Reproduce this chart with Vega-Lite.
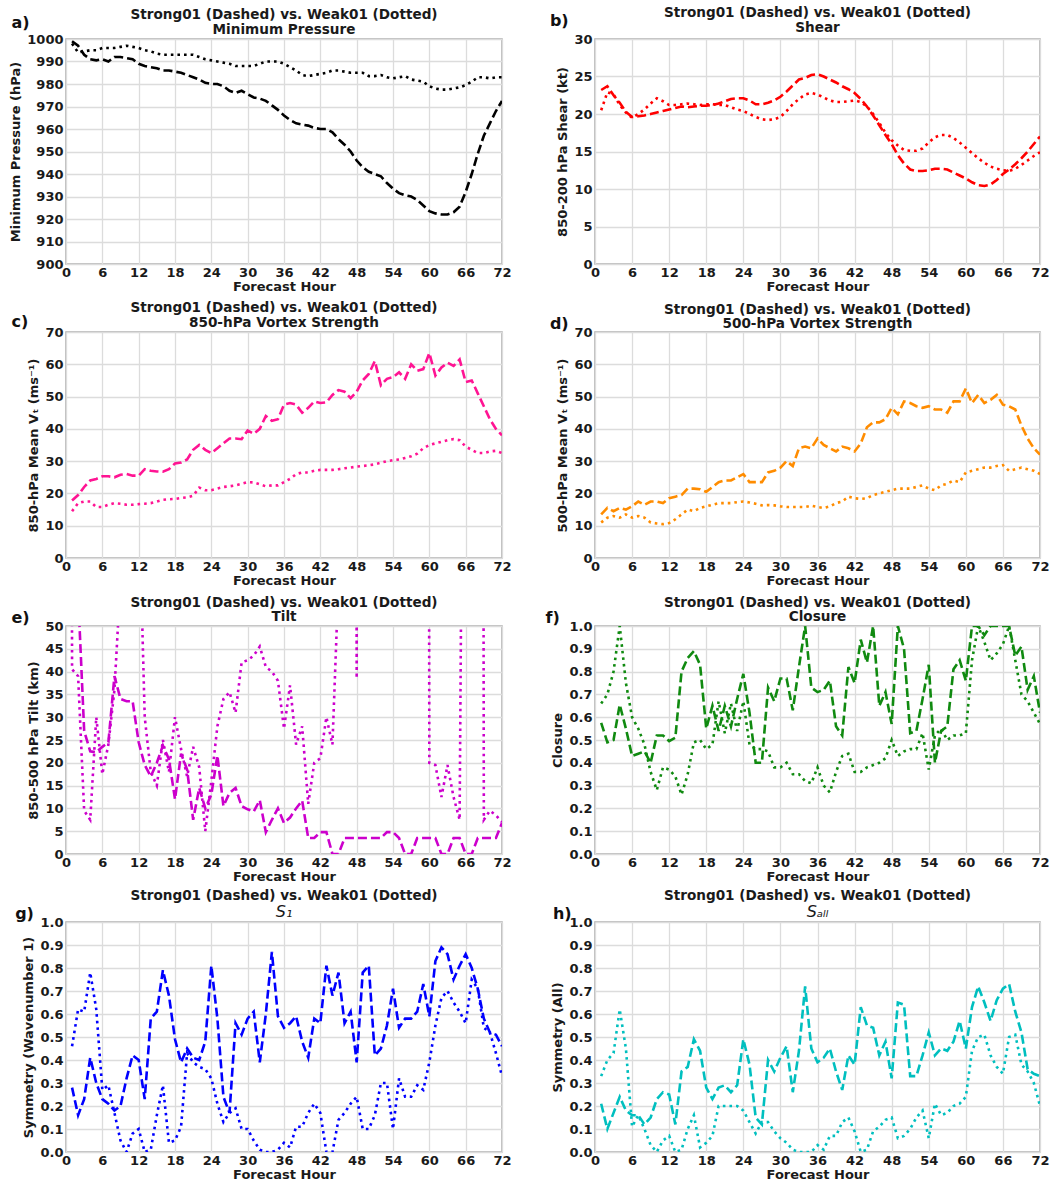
{
"$schema":"https://vega.github.io/schema/vega-lite/v6.json",
"padding":{"left":9,"top":5,"right":5,"bottom":0},
"bounds":"flush",
"columns":2,
"spacing":{"row":68,"column":93},
"datasets":{
"a":[{"h":1,"s":999,"w":998},{"h":2,"s":997,"w":994},{"h":3,"s":993,"w":994.5},{"h":4,"s":991,"w":995},{"h":5,"s":990.5,"w":995},{"h":6,"s":991,"w":996},{"h":7,"s":990,"w":996},{"h":8,"s":992,"w":996},{"h":9,"s":992,"w":996.5},{"h":10,"s":991.5,"w":997},{"h":11,"s":991,"w":996.5},{"h":12,"s":989,"w":996},{"h":13,"s":988,"w":995},{"h":14,"s":987.5,"w":994.5},{"h":15,"s":987,"w":993.5},{"h":16,"s":986,"w":993},{"h":17,"s":986,"w":993},{"h":18,"s":985.5,"w":993},{"h":19,"s":985,"w":993},{"h":20,"s":984,"w":993},{"h":21,"s":983,"w":993},{"h":22,"s":982,"w":992},{"h":23,"s":980.5,"w":991},{"h":24,"s":980,"w":990.5},{"h":25,"s":980,"w":990},{"h":26,"s":979,"w":989.5},{"h":27,"s":977,"w":989},{"h":28,"s":976,"w":988},{"h":29,"s":977,"w":988},{"h":30,"s":975.5,"w":988},{"h":31,"s":974,"w":988},{"h":32,"s":973.5,"w":989},{"h":33,"s":972.5,"w":990},{"h":34,"s":970.5,"w":990},{"h":35,"s":968.5,"w":990},{"h":36,"s":966,"w":989},{"h":37,"s":964,"w":987.5},{"h":38,"s":962.5,"w":986},{"h":39,"s":962,"w":984},{"h":40,"s":961.5,"w":983.5},{"h":41,"s":960.5,"w":984},{"h":42,"s":960,"w":984.5},{"h":43,"s":960,"w":985},{"h":44,"s":958.5,"w":986},{"h":45,"s":955.5,"w":986},{"h":46,"s":953,"w":985.5},{"h":47,"s":950,"w":985},{"h":48,"s":946,"w":985},{"h":49,"s":943,"w":985},{"h":50,"s":941,"w":983.5},{"h":51,"s":940,"w":983.5},{"h":52,"s":939,"w":984},{"h":53,"s":936,"w":983},{"h":54,"s":933.5,"w":982.5},{"h":55,"s":931.5,"w":983},{"h":56,"s":930.5,"w":983.5},{"h":57,"s":930,"w":982},{"h":58,"s":928.5,"w":981.5},{"h":59,"s":926,"w":981},{"h":60,"s":923.5,"w":979},{"h":61,"s":922.5,"w":978},{"h":62,"s":922,"w":977.5},{"h":63,"s":922,"w":977.5},{"h":64,"s":923,"w":978},{"h":65,"s":925.5,"w":978.5},{"h":66,"s":932,"w":979.5},{"h":67,"s":940,"w":981},{"h":68,"s":949,"w":983},{"h":69,"s":957,"w":983},{"h":70,"s":962.5,"w":982.5},{"h":71,"s":968,"w":983},{"h":72,"s":972.5,"w":983}],
"b":[{"h":1,"s":23.2,"w":20.5},{"h":2,"s":23.7,"w":22.9},{"h":3,"s":22.5,"w":22.6},{"h":4,"s":21.5,"w":21.2},{"h":5,"s":20.3,"w":20.2},{"h":6,"s":19.6,"w":19.5},{"h":7,"s":19.7,"w":20.0},{"h":8,"s":19.8,"w":20.6},{"h":9,"s":20.0,"w":21.4},{"h":10,"s":20.2,"w":22.1},{"h":11,"s":20.4,"w":21.7},{"h":12,"s":20.6,"w":21.2},{"h":13,"s":20.8,"w":21.2},{"h":14,"s":21.0,"w":21.3},{"h":15,"s":20.9,"w":21.4},{"h":16,"s":21.0,"w":21.3},{"h":17,"s":21.1,"w":21.2},{"h":18,"s":21.1,"w":21.3},{"h":19,"s":21.2,"w":21.3},{"h":20,"s":21.4,"w":21.2},{"h":21,"s":21.7,"w":21.2},{"h":22,"s":22.0,"w":20.9},{"h":23,"s":22.1,"w":20.6},{"h":24,"s":22.1,"w":20.4},{"h":25,"s":21.8,"w":20.0},{"h":26,"s":21.3,"w":19.6},{"h":27,"s":21.3,"w":19.3},{"h":28,"s":21.5,"w":19.2},{"h":29,"s":21.8,"w":19.3},{"h":30,"s":22.3,"w":19.6},{"h":31,"s":23.0,"w":20.4},{"h":32,"s":23.8,"w":21.3},{"h":33,"s":24.6,"w":22.0},{"h":34,"s":24.8,"w":22.6},{"h":35,"s":25.2,"w":22.8},{"h":36,"s":25.3,"w":22.6},{"h":37,"s":25.0,"w":22.2},{"h":38,"s":24.6,"w":21.8},{"h":39,"s":24.2,"w":21.6},{"h":40,"s":23.7,"w":21.6},{"h":41,"s":23.3,"w":21.7},{"h":42,"s":22.8,"w":21.8},{"h":43,"s":22.0,"w":21.6},{"h":44,"s":21.0,"w":21.0},{"h":45,"s":19.8,"w":20.0},{"h":46,"s":18.5,"w":18.8},{"h":47,"s":17.2,"w":17.5},{"h":48,"s":16.0,"w":16.5},{"h":49,"s":14.5,"w":15.8},{"h":50,"s":13.4,"w":15.2},{"h":51,"s":12.6,"w":15.1},{"h":52,"s":12.4,"w":15.1},{"h":53,"s":12.4,"w":15.4},{"h":54,"s":12.5,"w":16.2},{"h":55,"s":12.7,"w":16.9},{"h":56,"s":12.7,"w":17.2},{"h":57,"s":12.6,"w":17.2},{"h":58,"s":12.2,"w":16.8},{"h":59,"s":11.8,"w":16.2},{"h":60,"s":11.4,"w":15.5},{"h":61,"s":10.9,"w":14.8},{"h":62,"s":10.5,"w":14.1},{"h":63,"s":10.4,"w":13.5},{"h":64,"s":10.6,"w":13.0},{"h":65,"s":11.2,"w":12.7},{"h":66,"s":12.0,"w":12.5},{"h":67,"s":12.6,"w":12.4},{"h":68,"s":13.3,"w":12.7},{"h":69,"s":14.1,"w":13.2},{"h":70,"s":15.0,"w":13.8},{"h":71,"s":16.0,"w":14.4},{"h":72,"s":17.0,"w":14.9}],
"c":[{"h":1,"s":17.8,"w":14.5},{"h":2,"s":19.5,"w":17},{"h":3,"s":22,"w":17.5},{"h":4,"s":24,"w":17.5},{"h":5,"s":24.5,"w":15.8},{"h":6,"s":25.3,"w":15.8},{"h":7,"s":25.3,"w":16.5},{"h":8,"s":25,"w":17},{"h":9,"s":25.8,"w":16.8},{"h":10,"s":26,"w":16.5},{"h":11,"s":25.5,"w":16.5},{"h":12,"s":25.5,"w":16.7},{"h":13,"s":27.5,"w":16.8},{"h":14,"s":27,"w":17},{"h":15,"s":26.8,"w":17.5},{"h":16,"s":26.7,"w":18},{"h":17,"s":27.5,"w":18.2},{"h":18,"s":29.3,"w":18.3},{"h":19,"s":29.6,"w":18.6},{"h":20,"s":30.5,"w":18.8},{"h":21,"s":33.5,"w":19.3},{"h":22,"s":35,"w":21.8},{"h":23,"s":33.5,"w":21},{"h":24,"s":32.5,"w":21},{"h":25,"s":34,"w":21.5},{"h":26,"s":35.5,"w":22},{"h":27,"s":37,"w":22.2},{"h":28,"s":37,"w":22.5},{"h":29,"s":36.8,"w":23},{"h":30,"s":39.5,"w":23.5},{"h":31,"s":38.5,"w":23.4},{"h":32,"s":40,"w":22.8},{"h":33,"s":44,"w":22.2},{"h":34,"s":42.5,"w":22.5},{"h":35,"s":43,"w":22.5},{"h":36,"s":47.5,"w":23.5},{"h":37,"s":48,"w":24.5},{"h":38,"s":47.5,"w":26},{"h":39,"s":45,"w":26.5},{"h":40,"s":46.5,"w":26.5},{"h":41,"s":48.5,"w":27},{"h":42,"s":48,"w":27.3},{"h":43,"s":48.2,"w":27.3},{"h":44,"s":50.5,"w":27.3},{"h":45,"s":52,"w":27.5},{"h":46,"s":51.5,"w":27.8},{"h":47,"s":49.5,"w":28},{"h":48,"s":51.5,"w":28.3},{"h":49,"s":55,"w":28.5},{"h":50,"s":57,"w":28.7},{"h":51,"s":61,"w":29},{"h":52,"s":53.5,"w":29.5},{"h":53,"s":55.5,"w":30},{"h":54,"s":56,"w":30.3},{"h":55,"s":57.5,"w":30.5},{"h":56,"s":55.5,"w":31},{"h":57,"s":60,"w":31.5},{"h":58,"s":58,"w":32.3},{"h":59,"s":58.5,"w":34},{"h":60,"s":63.5,"w":35},{"h":61,"s":56.5,"w":35.5},{"h":62,"s":59,"w":36},{"h":63,"s":60.5,"w":36.5},{"h":64,"s":59.5,"w":36.8},{"h":65,"s":61.5,"w":36.5},{"h":66,"s":54.5,"w":34.5},{"h":67,"s":55,"w":33.5},{"h":68,"s":51,"w":32.5},{"h":69,"s":47,"w":32.5},{"h":70,"s":43,"w":33},{"h":71,"s":40,"w":33.2},{"h":72,"s":38,"w":32.5}],
"d":[{"h":1,"s":13.5,"w":11},{"h":2,"s":15.5,"w":12.5},{"h":3,"s":14.5,"w":13},{"h":4,"s":15.5,"w":12.5},{"h":5,"s":15,"w":13.5},{"h":6,"s":16,"w":12.5},{"h":7,"s":17.5,"w":13},{"h":8,"s":16.5,"w":12.5},{"h":9,"s":17.5,"w":11},{"h":10,"s":17.5,"w":10.7},{"h":11,"s":17,"w":10.5},{"h":12,"s":18.5,"w":10.8},{"h":13,"s":19,"w":12},{"h":14,"s":19.5,"w":13.5},{"h":15,"s":21.5,"w":15},{"h":16,"s":21.5,"w":14.5},{"h":17,"s":21.3,"w":15.5},{"h":18,"s":20.5,"w":16},{"h":19,"s":22,"w":16.5},{"h":20,"s":23.5,"w":17},{"h":21,"s":24,"w":17},{"h":22,"s":24,"w":17},{"h":23,"s":25,"w":17.3},{"h":24,"s":26,"w":17.5},{"h":25,"s":23.5,"w":17.2},{"h":26,"s":23.5,"w":16.8},{"h":27,"s":23.5,"w":16.3},{"h":28,"s":26.5,"w":16.4},{"h":29,"s":27,"w":16.3},{"h":30,"s":28,"w":16},{"h":31,"s":30,"w":15.8},{"h":32,"s":28.5,"w":15.8},{"h":33,"s":34,"w":15.8},{"h":34,"s":34.5,"w":15.8},{"h":35,"s":34,"w":16.2},{"h":36,"s":37,"w":15.8},{"h":37,"s":35,"w":15.5},{"h":38,"s":34,"w":16},{"h":39,"s":33,"w":17},{"h":40,"s":34.5,"w":17.5},{"h":41,"s":34,"w":19},{"h":42,"s":33,"w":18.5},{"h":43,"s":35.5,"w":18.3},{"h":44,"s":40.5,"w":18.5},{"h":45,"s":42,"w":19.5},{"h":46,"s":42,"w":20},{"h":47,"s":43,"w":20.5},{"h":48,"s":46.5,"w":21},{"h":49,"s":44.5,"w":21.5},{"h":50,"s":48.5,"w":21.5},{"h":51,"s":48,"w":21.5},{"h":52,"s":47,"w":22},{"h":53,"s":46.5,"w":22.5},{"h":54,"s":47,"w":21.5},{"h":55,"s":46,"w":21},{"h":56,"s":46,"w":22.5},{"h":57,"s":45,"w":23},{"h":58,"s":48.5,"w":24},{"h":59,"s":48.5,"w":23.5},{"h":60,"s":52.5,"w":26.5},{"h":61,"s":48,"w":27},{"h":62,"s":50.5,"w":27.5},{"h":63,"s":48,"w":28},{"h":64,"s":49,"w":28},{"h":65,"s":50.5,"w":28.5},{"h":66,"s":47.5,"w":28.8},{"h":67,"s":47,"w":27},{"h":68,"s":46,"w":27.5},{"h":69,"s":41,"w":28},{"h":70,"s":37,"w":27.5},{"h":71,"s":34,"w":27},{"h":72,"s":32,"w":26}],
"e":[{"h":0,"s":null,"w":1000},{"h":1,"s":60,"w":40.5},{"h":2,"s":57,"w":39},{"h":3,"s":27,"w":9.5},{"h":4,"s":22.5,"w":7.5},{"h":5,"s":22.3,"w":30},{"h":6,"s":23.5,"w":17.5},{"h":7,"s":24.5,"w":24},{"h":8,"s":39,"w":36},{"h":9,"s":34,"w":60},{"h":10,"s":33.5,"w":300},{"h":11,"s":33.5,"w":300},{"h":12,"s":24.5,"w":80},{"h":13,"s":19.5,"w":30},{"h":14,"s":17,"w":18},{"h":15,"s":20,"w":15},{"h":16,"s":23.8,"w":25},{"h":17,"s":20.8,"w":18},{"h":18,"s":12,"w":30},{"h":19,"s":22,"w":23},{"h":20,"s":18.5,"w":17},{"h":21,"s":7.5,"w":23.5},{"h":22,"s":14.5,"w":19},{"h":23,"s":10,"w":5},{"h":24,"s":13,"w":16},{"h":25,"s":21.6,"w":28},{"h":26,"s":10.5,"w":34},{"h":27,"s":13.4,"w":35.5},{"h":28,"s":14.5,"w":31},{"h":29,"s":10.5,"w":42},{"h":30,"s":9.8,"w":42.5},{"h":31,"s":9.3,"w":43.5},{"h":32,"s":11.8,"w":45.5},{"h":33,"s":4.8,"w":41},{"h":34,"s":7.5,"w":40},{"h":35,"s":10,"w":38},{"h":36,"s":6.8,"w":27.5},{"h":37,"s":8,"w":37},{"h":38,"s":10,"w":24},{"h":39,"s":11.7,"w":28},{"h":40,"s":3.5,"w":11},{"h":41,"s":3.5,"w":20},{"h":42,"s":4.8,"w":21},{"h":43,"s":4.8,"w":30},{"h":44,"s":0,"w":24},{"h":45,"s":0,"w":60},{"h":46,"s":3.5,"w":500},{"h":47,"s":3.5,"w":1000},{"h":48,"s":3.5,"w":38.5},{"h":49,"s":3.5,"w":1000},{"h":50,"s":3.5,"w":1000},{"h":51,"s":3.5,"w":1000},{"h":52,"s":3.5,"w":1000},{"h":53,"s":4.8,"w":1000},{"h":54,"s":4.8,"w":1000},{"h":55,"s":3.5,"w":1000},{"h":56,"s":0,"w":1000},{"h":57,"s":0,"w":1000},{"h":58,"s":3.5,"w":1000},{"h":59,"s":3.5,"w":1000},{"h":60,"s":3.5,"w":20},{"h":61,"s":3.5,"w":19.5},{"h":62,"s":0,"w":12.5},{"h":63,"s":0,"w":19.5},{"h":64,"s":3.5,"w":12.5},{"h":65,"s":3.5,"w":7.5},{"h":66,"s":0,"w":200},{"h":67,"s":0,"w":500},{"h":68,"s":3.5,"w":1000},{"h":69,"s":3.5,"w":7.5},{"h":70,"s":3.5,"w":9.5},{"h":71,"s":3.5,"w":8.5},{"h":72,"s":6.8,"w":7}],
"f":[{"h":1,"s":0.575,"w":0.66},{"h":2,"s":0.49,"w":0.70},{"h":3,"s":0.50,"w":0.80},{"h":4,"s":0.655,"w":1.0},{"h":5,"s":0.55,"w":0.75},{"h":6,"s":0.43,"w":0.60},{"h":7,"s":0.44,"w":0.55},{"h":8,"s":0.45,"w":0.48},{"h":9,"s":0.40,"w":0.36},{"h":10,"s":0.52,"w":0.28},{"h":11,"s":0.52,"w":0.38},{"h":12,"s":0.495,"w":0.37},{"h":13,"s":0.51,"w":0.34},{"h":14,"s":0.80,"w":0.26},{"h":15,"s":0.86,"w":0.35},{"h":16,"s":0.89,"w":0.49},{"h":17,"s":0.83,"w":0.50},{"h":18,"s":0.55,"w":0.46},{"h":19,"s":0.65,"w":0.48},{"h":20,"s":0.54,"w":0.67},{"h":21,"s":0.65,"w":0.53},{"h":22,"s":0.56,"w":0.66},{"h":23,"s":0.68,"w":0.54},{"h":24,"s":0.79,"w":0.67},{"h":25,"s":0.62,"w":0.48},{"h":26,"s":0.40,"w":0.46},{"h":27,"s":0.40,"w":0.46},{"h":28,"s":0.73,"w":0.45},{"h":29,"s":0.67,"w":0.38},{"h":30,"s":0.77,"w":0.38},{"h":31,"s":0.77,"w":0.40},{"h":32,"s":0.63,"w":0.35},{"h":33,"s":0.82,"w":0.35},{"h":34,"s":1.0,"w":0.32},{"h":35,"s":0.73,"w":0.31},{"h":36,"s":0.71,"w":0.38},{"h":37,"s":0.72,"w":0.30},{"h":38,"s":0.76,"w":0.27},{"h":39,"s":0.56,"w":0.36},{"h":40,"s":0.52,"w":0.43},{"h":41,"s":0.82,"w":0.44},{"h":42,"s":0.75,"w":0.36},{"h":43,"s":0.94,"w":0.36},{"h":44,"s":0.84,"w":0.38},{"h":45,"s":1.0,"w":0.39},{"h":46,"s":0.65,"w":0.40},{"h":47,"s":0.71,"w":0.42},{"h":48,"s":0.57,"w":0.50},{"h":49,"s":1.0,"w":0.43},{"h":50,"s":0.9,"w":0.45},{"h":51,"s":0.53,"w":0.46},{"h":52,"s":0.54,"w":0.46},{"h":53,"s":0.68,"w":0.53},{"h":54,"s":0.83,"w":0.37},{"h":55,"s":0.40,"w":0.52},{"h":56,"s":0.54,"w":0.55},{"h":57,"s":0.56,"w":0.50},{"h":58,"s":0.81,"w":0.52},{"h":59,"s":0.85,"w":0.52},{"h":60,"s":0.76,"w":0.53},{"h":61,"s":1.0,"w":0.85},{"h":62,"s":1.0,"w":1.0},{"h":63,"s":0.96,"w":0.93},{"h":64,"s":1.0,"w":0.85},{"h":65,"s":1.0,"w":0.88},{"h":66,"s":1.0,"w":0.92},{"h":67,"s":1.0,"w":1.0},{"h":68,"s":0.87,"w":0.85},{"h":69,"s":0.91,"w":0.70},{"h":70,"s":0.72,"w":0.67},{"h":71,"s":0.78,"w":0.62},{"h":72,"s":0.62,"w":0.57}],
"g":[{"h":1,"s":0.28,"w":0.46},{"h":2,"s":0.16,"w":0.62},{"h":3,"s":0.23,"w":0.61},{"h":4,"s":0.41,"w":0.78},{"h":5,"s":0.30,"w":0.62},{"h":6,"s":0.23,"w":0.27},{"h":7,"s":0.21,"w":0.29},{"h":8,"s":0.18,"w":0.17},{"h":9,"s":0.20,"w":0.05},{"h":10,"s":0.32,"w":0.0},{"h":11,"s":0.42,"w":0.08},{"h":12,"s":0.40,"w":0.10},{"h":13,"s":0.23,"w":0.0},{"h":14,"s":0.58,"w":0.01},{"h":15,"s":0.61,"w":0.16},{"h":16,"s":0.79,"w":0.29},{"h":17,"s":0.68,"w":0.04},{"h":18,"s":0.49,"w":0.05},{"h":19,"s":0.39,"w":0.11},{"h":20,"s":0.45,"w":0.43},{"h":21,"s":0.41,"w":0.39},{"h":22,"s":0.40,"w":0.37},{"h":23,"s":0.48,"w":0.36},{"h":24,"s":0.81,"w":0.32},{"h":25,"s":0.58,"w":0.21},{"h":26,"s":0.24,"w":0.13},{"h":27,"s":0.17,"w":0.17},{"h":28,"s":0.56,"w":0.19},{"h":29,"s":0.51,"w":0.10},{"h":30,"s":0.58,"w":0.10},{"h":31,"s":0.61,"w":0.05},{"h":32,"s":0.39,"w":0.01},{"h":33,"s":0.60,"w":0.0},{"h":34,"s":0.87,"w":0.0},{"h":35,"s":0.59,"w":0.01},{"h":36,"s":0.54,"w":0.04},{"h":37,"s":0.56,"w":0.02},{"h":38,"s":0.59,"w":0.11},{"h":39,"s":0.48,"w":0.11},{"h":40,"s":0.41,"w":0.17},{"h":41,"s":0.58,"w":0.21},{"h":42,"s":0.56,"w":0.17},{"h":43,"s":0.81,"w":0.0},{"h":44,"s":0.68,"w":0.0},{"h":45,"s":0.78,"w":0.14},{"h":46,"s":0.56,"w":0.17},{"h":47,"s":0.61,"w":0.21},{"h":48,"s":0.39,"w":0.24},{"h":49,"s":0.78,"w":0.10},{"h":50,"s":0.81,"w":0.10},{"h":51,"s":0.42,"w":0.16},{"h":52,"s":0.45,"w":0.30},{"h":53,"s":0.55,"w":0.30},{"h":54,"s":0.71,"w":0.10},{"h":55,"s":0.54,"w":0.32},{"h":56,"s":0.58,"w":0.24},{"h":57,"s":0.58,"w":0.24},{"h":58,"s":0.61,"w":0.29},{"h":59,"s":0.73,"w":0.27},{"h":60,"s":0.59,"w":0.39},{"h":61,"s":0.83,"w":0.55},{"h":62,"s":0.89,"w":0.67},{"h":63,"s":0.86,"w":0.70},{"h":64,"s":0.75,"w":0.65},{"h":65,"s":0.81,"w":0.61},{"h":66,"s":0.86,"w":0.56},{"h":67,"s":0.80,"w":0.75},{"h":68,"s":0.71,"w":0.71},{"h":69,"s":0.58,"w":0.54},{"h":70,"s":0.52,"w":0.52},{"h":71,"s":0.51,"w":0.43},{"h":72,"s":0.46,"w":0.33}],
"hh":[{"h":1,"s":0.21,"w":0.33},{"h":2,"s":0.10,"w":0.40},{"h":3,"s":0.17,"w":0.43},{"h":4,"s":0.24,"w":0.62},{"h":5,"s":0.18,"w":0.45},{"h":6,"s":0.16,"w":0.11},{"h":7,"s":0.16,"w":0.16},{"h":8,"s":0.12,"w":0.10},{"h":9,"s":0.15,"w":0.03},{"h":10,"s":0.23,"w":0.0},{"h":11,"s":0.26,"w":0.05},{"h":12,"s":0.25,"w":0.07},{"h":13,"s":0.12,"w":0.0},{"h":14,"s":0.35,"w":0.01},{"h":15,"s":0.37,"w":0.10},{"h":16,"s":0.49,"w":0.16},{"h":17,"s":0.44,"w":0.02},{"h":18,"s":0.28,"w":0.04},{"h":19,"s":0.23,"w":0.07},{"h":20,"s":0.28,"w":0.20},{"h":21,"s":0.29,"w":0.20},{"h":22,"s":0.26,"w":0.20},{"h":23,"s":0.29,"w":0.20},{"h":24,"s":0.49,"w":0.18},{"h":25,"s":0.38,"w":0.13},{"h":26,"s":0.15,"w":0.08},{"h":27,"s":0.12,"w":0.13},{"h":28,"s":0.40,"w":0.13},{"h":29,"s":0.35,"w":0.09},{"h":30,"s":0.41,"w":0.06},{"h":31,"s":0.46,"w":0.04},{"h":32,"s":0.26,"w":0.01},{"h":33,"s":0.44,"w":0.0},{"h":34,"s":0.72,"w":0.0},{"h":35,"s":0.45,"w":0.0},{"h":36,"s":0.39,"w":0.03},{"h":37,"s":0.41,"w":0.01},{"h":38,"s":0.45,"w":0.07},{"h":39,"s":0.35,"w":0.07},{"h":40,"s":0.27,"w":0.13},{"h":41,"s":0.42,"w":0.15},{"h":42,"s":0.38,"w":0.09},{"h":43,"s":0.63,"w":0.0},{"h":44,"s":0.55,"w":0.01},{"h":45,"s":0.54,"w":0.09},{"h":46,"s":0.42,"w":0.11},{"h":47,"s":0.48,"w":0.14},{"h":48,"s":0.32,"w":0.15},{"h":49,"s":0.65,"w":0.06},{"h":50,"s":0.64,"w":0.07},{"h":51,"s":0.33,"w":0.10},{"h":52,"s":0.33,"w":0.15},{"h":53,"s":0.42,"w":0.18},{"h":54,"s":0.52,"w":0.06},{"h":55,"s":0.42,"w":0.21},{"h":56,"s":0.45,"w":0.16},{"h":57,"s":0.44,"w":0.17},{"h":58,"s":0.48,"w":0.20},{"h":59,"s":0.57,"w":0.21},{"h":60,"s":0.45,"w":0.24},{"h":61,"s":0.63,"w":0.44},{"h":62,"s":0.72,"w":0.50},{"h":63,"s":0.65,"w":0.51},{"h":64,"s":0.57,"w":0.42},{"h":65,"s":0.66,"w":0.37},{"h":66,"s":0.71,"w":0.34},{"h":67,"s":0.73,"w":0.50},{"h":68,"s":0.61,"w":0.51},{"h":69,"s":0.52,"w":0.38},{"h":70,"s":0.36,"w":0.35},{"h":71,"s":0.34,"w":0.30},{"h":72,"s":0.33,"w":0.20}]
},
"concat":[
{"width":436,"height":225,"title":{"text":"Strong01 (Dashed) vs. Weak01 (Dotted)","subtitle":"Minimum Pressure","offset":-21},
"layer":[
{"data":{"name":"a"},"transform":[{"fold":["s","w"],"as":["run","v"]}],"mark":{"type":"line","color":"#000000","clip":true,"strokeWidth":2.6},
"encoding":{"x":{"field":"h","type":"quantitative","scale":{"domain":[0,72],"nice":false,"zero":false},"axis":{"values":[0,6,12,18,24,30,36,42,48,54,60,66,72],"tickCount":50,"title":"Forecast Hour"}},
"y":{"field":"v","type":"quantitative","scale":{"domain":[900,1000],"nice":false,"zero":false},"axis":{"values":[900,910,920,930,940,950,960,970,980,990,1000],"tickCount":50,"format":"d","title":"Minimum Pressure (hPa)"}},
"strokeDash":{"field":"run","type":"nominal","scale":{"domain":["s","w"],"range":[[9,4],[2.6,4]]},"legend":null}}},
{"data":{"values":[{"t":"a)"}]},"mark":{"type":"text","fontSize":16,"fontWeight":"bold","align":"left","baseline":"bottom","color":"#111"},
"encoding":{"x":{"datum":-9,"type":"quantitative"},"y":{"datum":1003.5,"type":"quantitative"},"text":{"field":"t"}}}]},
{"width":445,"height":225,"title":{"text":"Strong01 (Dashed) vs. Weak01 (Dotted)","subtitle":"Shear","offset":-21},
"layer":[
{"data":{"name":"b"},"transform":[{"fold":["s","w"],"as":["run","v"]}],"mark":{"type":"line","color":"#ff0000","clip":true,"strokeWidth":2.6},
"encoding":{"x":{"field":"h","type":"quantitative","scale":{"domain":[0,72],"nice":false,"zero":false},"axis":{"values":[0,6,12,18,24,30,36,42,48,54,60,66,72],"tickCount":50,"title":"Forecast Hour"}},
"y":{"field":"v","type":"quantitative","scale":{"domain":[0,30],"nice":false},"axis":{"values":[0,5,10,15,20,25,30],"tickCount":50,"format":"d","title":"850-200 hPa Shear (kt)"}},
"strokeDash":{"field":"run","type":"nominal","scale":{"domain":["s","w"],"range":[[9,4],[2.6,4]]},"legend":null}}},
{"data":{"values":[{"t":"b)"}]},"mark":{"type":"text","fontSize":16,"fontWeight":"bold","align":"left","baseline":"bottom","color":"#111"},
"encoding":{"x":{"datum":-7.3,"type":"quantitative"},"y":{"datum":31.3,"type":"quantitative"},"text":{"field":"t"}}}]},
{"width":436,"height":226,"title":{"text":"Strong01 (Dashed) vs. Weak01 (Dotted)","subtitle":"850-hPa Vortex Strength","offset":-15},
"layer":[
{"data":{"name":"c"},"transform":[{"fold":["s","w"],"as":["run","v"]}],"mark":{"type":"line","color":"#ff1493","clip":true,"strokeWidth":2.6},
"encoding":{"x":{"field":"h","type":"quantitative","scale":{"domain":[0,72],"nice":false,"zero":false},"axis":{"values":[0,6,12,18,24,30,36,42,48,54,60,66,72],"tickCount":50,"title":"Forecast Hour"}},
"y":{"field":"v","type":"quantitative","scale":{"domain":[0,70],"nice":false},"axis":{"values":[0,10,20,30,40,50,60,70],"tickCount":50,"format":"d","title":"850-hPa Mean Vₜ (ms⁻¹)"}},
"strokeDash":{"field":"run","type":"nominal","scale":{"domain":["s","w"],"range":[[9,4],[2.6,4]]},"legend":null}}},
{"data":{"values":[{"t":"c)"}]},"mark":{"type":"text","fontSize":16,"fontWeight":"bold","align":"left","baseline":"bottom","color":"#111"},
"encoding":{"x":{"datum":-9,"type":"quantitative"},"y":{"datum":70.5,"type":"quantitative"},"text":{"field":"t"}}}]},
{"width":445,"height":226,"title":{"text":"Strong01 (Dashed) vs. Weak01 (Dotted)","subtitle":"500-hPa Vortex Strength","offset":-15},
"layer":[
{"data":{"name":"d"},"transform":[{"fold":["s","w"],"as":["run","v"]}],"mark":{"type":"line","color":"#ff8c00","clip":true,"strokeWidth":2.6},
"encoding":{"x":{"field":"h","type":"quantitative","scale":{"domain":[0,72],"nice":false,"zero":false},"axis":{"values":[0,6,12,18,24,30,36,42,48,54,60,66,72],"tickCount":50,"title":"Forecast Hour"}},
"y":{"field":"v","type":"quantitative","scale":{"domain":[0,70],"nice":false},"axis":{"values":[0,10,20,30,40,50,60,70],"tickCount":50,"format":"d","title":"500-hPa Mean Vₜ (ms⁻¹)"}},
"strokeDash":{"field":"run","type":"nominal","scale":{"domain":["s","w"],"range":[[9,4],[2.6,4]]},"legend":null}}},
{"data":{"values":[{"t":"d)"}]},"mark":{"type":"text","fontSize":16,"fontWeight":"bold","align":"left","baseline":"bottom","color":"#111"},
"encoding":{"x":{"datum":-7.3,"type":"quantitative"},"y":{"datum":70,"type":"quantitative"},"text":{"field":"t"}}}]},
{"width":436,"height":228,"title":{"text":"Strong01 (Dashed) vs. Weak01 (Dotted)","subtitle":"Tilt","offset":-14},
"layer":[
{"data":{"name":"e"},"transform":[{"fold":["s","w"],"as":["run","v"]}],"mark":{"type":"line","color":"#cc00cc","clip":true,"strokeWidth":2.6},
"encoding":{"x":{"field":"h","type":"quantitative","scale":{"domain":[0,72],"nice":false,"zero":false},"axis":{"values":[0,6,12,18,24,30,36,42,48,54,60,66,72],"tickCount":50,"title":"Forecast Hour"}},
"y":{"field":"v","type":"quantitative","scale":{"domain":[0,50],"nice":false},"axis":{"values":[0,5,10,15,20,25,30,35,40,45,50],"tickCount":50,"format":"d","title":"850-500 hPa Tilt (km)"}},
"strokeDash":{"field":"run","type":"nominal","scale":{"domain":["s","w"],"range":[[9,4],[2.6,4]]},"legend":null}}},
{"data":{"values":[{"t":"e)"}]},"mark":{"type":"text","fontSize":16,"fontWeight":"bold","align":"left","baseline":"bottom","color":"#111"},
"encoding":{"x":{"datum":-9,"type":"quantitative"},"y":{"datum":50,"type":"quantitative"},"text":{"field":"t"}}}]},
{"width":445,"height":228,"title":{"text":"Strong01 (Dashed) vs. Weak01 (Dotted)","subtitle":"Closure","offset":-14},
"layer":[
{"data":{"name":"f"},"transform":[{"fold":["s","w"],"as":["run","v"]}],"mark":{"type":"line","color":"#108a10","clip":true,"strokeWidth":2.6},
"encoding":{"x":{"field":"h","type":"quantitative","scale":{"domain":[0,72],"nice":false,"zero":false},"axis":{"values":[0,6,12,18,24,30,36,42,48,54,60,66,72],"tickCount":50,"title":"Forecast Hour"}},
"y":{"field":"v","type":"quantitative","scale":{"domain":[0,1],"nice":false},"axis":{"values":[0,0.1,0.2,0.3,0.4,0.5,0.6,0.7,0.8,0.9,1.0],"tickCount":50,"format":".1f","title":"Closure"}},
"strokeDash":{"field":"run","type":"nominal","scale":{"domain":["s","w"],"range":[[9,4],[2.6,4]]},"legend":null}}},
{"data":{"values":[{"t":"f)"}]},"mark":{"type":"text","fontSize":16,"fontWeight":"bold","align":"left","baseline":"bottom","color":"#111"},
"encoding":{"x":{"datum":-8,"type":"quantitative"},"y":{"datum":1.0,"type":"quantitative"},"text":{"field":"t"}}}]},
{"width":436,"height":230,"title":{"text":"Strong01 (Dashed) vs. Weak01 (Dotted)","subtitle":"S₁","subtitleFontStyle":"italic","subtitleFontWeight":"normal","subtitleFontSize":16,"offset":-14},
"layer":[
{"data":{"name":"g"},"transform":[{"fold":["s","w"],"as":["run","v"]}],"mark":{"type":"line","color":"#0000ff","clip":true,"strokeWidth":2.6},
"encoding":{"x":{"field":"h","type":"quantitative","scale":{"domain":[0,72],"nice":false,"zero":false},"axis":{"values":[0,6,12,18,24,30,36,42,48,54,60,66,72],"tickCount":50,"title":"Forecast Hour"}},
"y":{"field":"v","type":"quantitative","scale":{"domain":[0,1],"nice":false},"axis":{"values":[0,0.1,0.2,0.3,0.4,0.5,0.6,0.7,0.8,0.9,1.0],"tickCount":50,"format":".1f","title":"Symmetry (Wavenumber 1)"}},
"strokeDash":{"field":"run","type":"nominal","scale":{"domain":["s","w"],"range":[[9,4],[2.6,4]]},"legend":null}}},
{"data":{"values":[{"t":"g)"}]},"mark":{"type":"text","fontSize":16,"fontWeight":"bold","align":"left","baseline":"bottom","color":"#111"},
"encoding":{"x":{"datum":-8.4,"type":"quantitative"},"y":{"datum":1.0,"type":"quantitative"},"text":{"field":"t"}}}]},
{"width":445,"height":230,"title":{"text":"Strong01 (Dashed) vs. Weak01 (Dotted)","subtitle":"Sₐₗₗ","subtitleFontStyle":"italic","subtitleFontWeight":"normal","subtitleFontSize":16,"offset":-14},
"layer":[
{"data":{"name":"hh"},"transform":[{"fold":["s","w"],"as":["run","v"]}],"mark":{"type":"line","color":"#00bfbf","clip":true,"strokeWidth":2.6},
"encoding":{"x":{"field":"h","type":"quantitative","scale":{"domain":[0,72],"nice":false,"zero":false},"axis":{"values":[0,6,12,18,24,30,36,42,48,54,60,66,72],"tickCount":50,"title":"Forecast Hour"}},
"y":{"field":"v","type":"quantitative","scale":{"domain":[0,1],"nice":false},"axis":{"values":[0,0.1,0.2,0.3,0.4,0.5,0.6,0.7,0.8,0.9,1.0],"tickCount":50,"format":".1f","title":"Symmetry (All)"}},
"strokeDash":{"field":"run","type":"nominal","scale":{"domain":["s","w"],"range":[[9,4],[2.6,4]]},"legend":null}}},
{"data":{"values":[{"t":"h)"}]},"mark":{"type":"text","fontSize":16,"fontWeight":"bold","align":"left","baseline":"bottom","color":"#111"},
"encoding":{"x":{"datum":-6.8,"type":"quantitative"},"y":{"datum":1.0,"type":"quantitative"},"text":{"field":"t"}}}]}
],
"config":{
"font":"DejaVu Sans",
"view":{"stroke":"#aaaaaa","strokeWidth":1.5},
"axis":{"labelFont":"DejaVu Sans","labelFontSize":13,"labelFontWeight":"bold","labelColor":"#1a1a1a","titleFont":"DejaVu Sans","titleFontSize":13,"titleFontWeight":"bold","titleColor":"#1a1a1a","grid":true,"gridColor":"#dcdcdc","gridWidth":1.3,"domain":false,"ticks":false,"labelPadding":3,"labelFlush":false,"labelOverlap":false,"tickCount":50},
"axisX":{"titlePadding":1,"labelPadding":2},
"axisY":{"titlePadding":4},
"title":{"font":"DejaVu Sans","fontSize":13.6,"fontWeight":"bold","color":"#1a1a1a","subtitleFont":"DejaVu Sans","subtitleFontSize":13.6,"subtitleFontWeight":"bold","subtitleColor":"#1a1a1a","subtitlePadding":1,"frame":"group","anchor":"middle"}
}
}
